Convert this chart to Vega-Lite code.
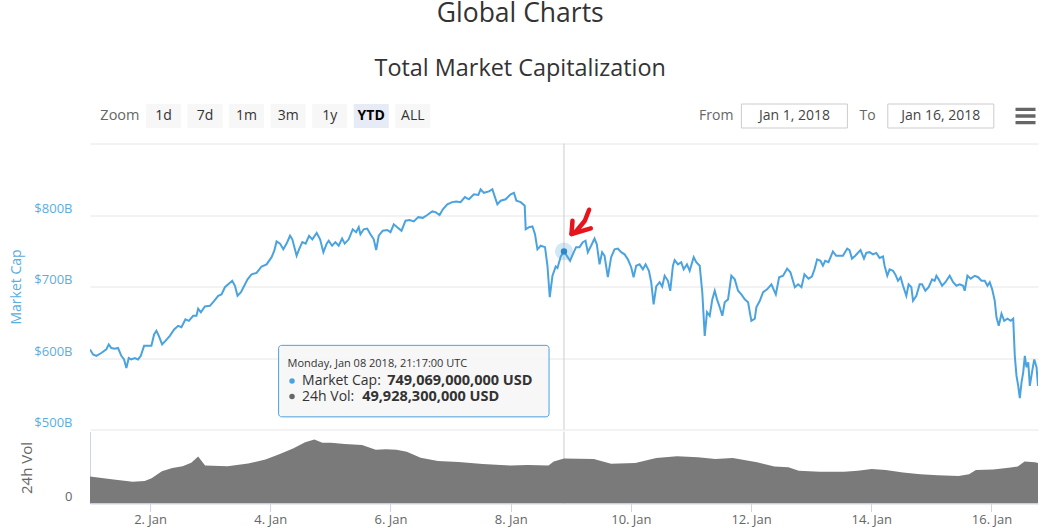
{
  "$schema": "https://vega.github.io/schema/vega-lite/v6.json",
  "background": "white",
  "padding": {"left": 9, "right": 0, "top": 0, "bottom": 0},
  "config": {"font": "Open Sans", "view": {"stroke": null}},
  "title": {"text": "Global Charts", "subtitle": "Total Market Capitalization", "anchor": "middle", "dx": -10, "font": "Open Sans", "fontSize": 26.5, "fontWeight": "normal", "color": "#333333", "subtitleFont": "Open Sans", "subtitleFontSize": 23.4, "subtitleColor": "#333333", "subtitlePadding": 30.7, "offset": 23.4},
  "datasets": {
    "zoomButtons": [{"item": "Zoom"}, {"item": "1d"}, {"item": "7d"}, {"item": "1m"}, {"item": "3m"}, {"item": "1y"}, {"item": "YTD"}, {"item": "ALL"}],
    "rangeBox": [{"item": "From"}, {"item": "Jan 1, 2018"}, {"item": "To"}, {"item": "Jan 16, 2018"}, {"item": "menu"}],
    "hover": [{"t": "2018-01-08T21:17Z", "v": 749.069, "vol": 49.9283}],
    "arrow": [
      {"part": "shaft", "seq": 1, "t": "2018-01-09T07:19Z", "v": 807.4},
      {"part": "shaft", "seq": 2, "t": "2018-01-09T05:36Z", "v": 792},
      {"part": "shaft", "seq": 3, "t": "2018-01-09T02:00Z", "v": 776.6},
      {"part": "shaft", "seq": 4, "t": "2018-01-09T00:17Z", "v": 773.4},
      {"part": "head", "seq": 1, "t": "2018-01-09T00:41Z", "v": 792},
      {"part": "head", "seq": 2, "t": "2018-01-09T00:17Z", "v": 773.4},
      {"part": "head", "seq": 3, "t": "2018-01-09T08:00Z", "v": 781.3}
    ],
    "tipBox": [{"t": "2018-01-04T03:19Z", "t2": "2018-01-08T15:19Z", "v": 617.7, "v2": 517.7}],
    "tipText": [
      {"kind": "head", "t": "2018-01-04T06:55Z", "v": 591.0, "label": "Monday, Jan 08 2018, 21:17:00 UTC"},
      {"kind": "name", "t": "2018-01-04T12:41Z", "v": 567.9, "label": "Market Cap:"},
      {"kind": "val", "t": "2018-01-05T22:41Z", "v": 567.9, "label": "749,069,000,000 USD"},
      {"kind": "name", "t": "2018-01-04T12:41Z", "v": 546.1, "label": "24h Vol:"},
      {"kind": "val", "t": "2018-01-05T12:41Z", "v": 546.1, "label": "49,928,300,000 USD"}
    ],
    "tipDots": [
      {"series": "Market Cap", "t": "2018-01-04T08:41Z", "v": 567.9},
      {"series": "24h Vol", "t": "2018-01-04T08:41Z", "v": 546.1}
    ],
    "cap": [
      {"t": "2018-01-01T00:00Z", "v": 612}, {"t": "2018-01-01T01:12Z", "v": 605}, {"t": "2018-01-01T02:31Z", "v": 603}, {"t": "2018-01-01T04:31Z", "v": 607},
      {"t": "2018-01-01T06:31Z", "v": 612}, {"t": "2018-01-01T07:29Z", "v": 619}, {"t": "2018-01-01T08:31Z", "v": 614}, {"t": "2018-01-01T09:53Z", "v": 613},
      {"t": "2018-01-01T11:12Z", "v": 614}, {"t": "2018-01-01T12:31Z", "v": 603}, {"t": "2018-01-01T13:36Z", "v": 598}, {"t": "2018-01-01T14:31Z", "v": 586},
      {"t": "2018-01-01T15:29Z", "v": 600}, {"t": "2018-01-01T16:31Z", "v": 598}, {"t": "2018-01-01T17:53Z", "v": 600}, {"t": "2018-01-01T19:12Z", "v": 598},
      {"t": "2018-01-01T20:17Z", "v": 603}, {"t": "2018-01-01T21:36Z", "v": 617}, {"t": "2018-01-01T23:12Z", "v": 617},
      {"t": "2018-01-02T00:31Z", "v": 617}, {"t": "2018-01-02T01:36Z", "v": 633}, {"t": "2018-01-02T02:31Z", "v": 638}, {"t": "2018-01-02T03:29Z", "v": 631},
      {"t": "2018-01-02T04:48Z", "v": 619}, {"t": "2018-01-02T06:07Z", "v": 624}, {"t": "2018-01-02T07:53Z", "v": 631}, {"t": "2018-01-02T09:36Z", "v": 640},
      {"t": "2018-01-02T11:12Z", "v": 645}, {"t": "2018-01-02T12:31Z", "v": 643}, {"t": "2018-01-02T14:07Z", "v": 654}, {"t": "2018-01-02T15:29Z", "v": 652},
      {"t": "2018-01-02T17:12Z", "v": 659}, {"t": "2018-01-02T18:31Z", "v": 659}, {"t": "2018-01-02T19:12Z", "v": 669}, {"t": "2018-01-02T20:17Z", "v": 664},
      {"t": "2018-01-02T21:53Z", "v": 672}, {"t": "2018-01-02T23:53Z", "v": 673},
      {"t": "2018-01-03T01:36Z", "v": 680}, {"t": "2018-01-03T03:12Z", "v": 687}, {"t": "2018-01-03T04:31Z", "v": 689}, {"t": "2018-01-03T05:53Z", "v": 699},
      {"t": "2018-01-03T07:12Z", "v": 703}, {"t": "2018-01-03T08:48Z", "v": 708}, {"t": "2018-01-03T09:53Z", "v": 701}, {"t": "2018-01-03T10:55Z", "v": 687},
      {"t": "2018-01-03T12:17Z", "v": 692}, {"t": "2018-01-03T13:36Z", "v": 701}, {"t": "2018-01-03T14:55Z", "v": 710}, {"t": "2018-01-03T16:31Z", "v": 717},
      {"t": "2018-01-03T18:31Z", "v": 719}, {"t": "2018-01-03T20:31Z", "v": 728}, {"t": "2018-01-03T22:31Z", "v": 731},
      {"t": "2018-01-04T00:31Z", "v": 741}, {"t": "2018-01-04T01:36Z", "v": 750}, {"t": "2018-01-04T02:31Z", "v": 763}, {"t": "2018-01-04T03:53Z", "v": 760},
      {"t": "2018-01-04T05:12Z", "v": 752}, {"t": "2018-01-04T06:31Z", "v": 760}, {"t": "2018-01-04T07:53Z", "v": 771}, {"t": "2018-01-04T08:48Z", "v": 766},
      {"t": "2018-01-04T10:31Z", "v": 743}, {"t": "2018-01-04T11:29Z", "v": 752}, {"t": "2018-01-04T12:48Z", "v": 762}, {"t": "2018-01-04T14:07Z", "v": 760},
      {"t": "2018-01-04T15:29Z", "v": 771}, {"t": "2018-01-04T16:48Z", "v": 766}, {"t": "2018-01-04T18:31Z", "v": 775}, {"t": "2018-01-04T19:53Z", "v": 766},
      {"t": "2018-01-04T21:12Z", "v": 748}, {"t": "2018-01-04T22:31Z", "v": 760}, {"t": "2018-01-04T23:19Z", "v": 764},
      {"t": "2018-01-05T00:41Z", "v": 757}, {"t": "2018-01-05T02:00Z", "v": 762}, {"t": "2018-01-05T03:19Z", "v": 757}, {"t": "2018-01-05T04:41Z", "v": 767},
      {"t": "2018-01-05T05:43Z", "v": 760}, {"t": "2018-01-05T07:19Z", "v": 766}, {"t": "2018-01-05T08:55Z", "v": 780}, {"t": "2018-01-05T10:17Z", "v": 776},
      {"t": "2018-01-05T11:19Z", "v": 783}, {"t": "2018-01-05T12:00Z", "v": 773}, {"t": "2018-01-05T13:19Z", "v": 780}, {"t": "2018-01-05T14:41Z", "v": 781},
      {"t": "2018-01-05T16:00Z", "v": 773}, {"t": "2018-01-05T17:19Z", "v": 766}, {"t": "2018-01-05T18:17Z", "v": 751}, {"t": "2018-01-05T19:19Z", "v": 771},
      {"t": "2018-01-05T20:55Z", "v": 778}, {"t": "2018-01-05T22:41Z", "v": 779},
      {"t": "2018-01-06T00:00Z", "v": 776}, {"t": "2018-01-06T01:19Z", "v": 787}, {"t": "2018-01-06T02:41Z", "v": 783}, {"t": "2018-01-06T04:24Z", "v": 778},
      {"t": "2018-01-06T06:00Z", "v": 792}, {"t": "2018-01-06T07:36Z", "v": 793}, {"t": "2018-01-06T09:19Z", "v": 791}, {"t": "2018-01-06T11:05Z", "v": 797},
      {"t": "2018-01-06T12:55Z", "v": 796}, {"t": "2018-01-06T14:41Z", "v": 800}, {"t": "2018-01-06T16:41Z", "v": 805}, {"t": "2018-01-06T18:00Z", "v": 804},
      {"t": "2018-01-06T19:36Z", "v": 800}, {"t": "2018-01-06T20:55Z", "v": 808}, {"t": "2018-01-06T22:41Z", "v": 815},
      {"t": "2018-01-07T00:41Z", "v": 818}, {"t": "2018-01-07T02:17Z", "v": 819}, {"t": "2018-01-07T04:00Z", "v": 818}, {"t": "2018-01-07T05:43Z", "v": 825},
      {"t": "2018-01-07T07:19Z", "v": 822}, {"t": "2018-01-07T09:19Z", "v": 829}, {"t": "2018-01-07T11:05Z", "v": 828}, {"t": "2018-01-07T12:00Z", "v": 836},
      {"t": "2018-01-07T13:19Z", "v": 831}, {"t": "2018-01-07T15:19Z", "v": 833}, {"t": "2018-01-07T16:41Z", "v": 836}, {"t": "2018-01-07T17:43Z", "v": 825},
      {"t": "2018-01-07T18:41Z", "v": 815}, {"t": "2018-01-07T20:00Z", "v": 820}, {"t": "2018-01-07T22:00Z", "v": 822},
      {"t": "2018-01-08T00:00Z", "v": 829}, {"t": "2018-01-08T01:19Z", "v": 831}, {"t": "2018-01-08T02:17Z", "v": 820}, {"t": "2018-01-08T04:00Z", "v": 818},
      {"t": "2018-01-08T05:36Z", "v": 813}, {"t": "2018-01-08T06:00Z", "v": 780}, {"t": "2018-01-08T07:19Z", "v": 783}, {"t": "2018-01-08T08:41Z", "v": 784},
      {"t": "2018-01-08T09:43Z", "v": 773}, {"t": "2018-01-08T10:41Z", "v": 752}, {"t": "2018-01-08T12:00Z", "v": 757}, {"t": "2018-01-08T13:43Z", "v": 755},
      {"t": "2018-01-08T14:41Z", "v": 729}, {"t": "2018-01-08T15:36Z", "v": 685}, {"t": "2018-01-08T16:41Z", "v": 715}, {"t": "2018-01-08T18:00Z", "v": 728},
      {"t": "2018-01-08T18:41Z", "v": 726}, {"t": "2018-01-08T20:00Z", "v": 742}, {"t": "2018-01-08T21:17Z", "v": 749.069}, {"t": "2018-01-08T23:43Z", "v": 736},
      {"t": "2018-01-09T00:48Z", "v": 745}, {"t": "2018-01-09T02:07Z", "v": 755}, {"t": "2018-01-09T03:29Z", "v": 755}, {"t": "2018-01-09T04:48Z", "v": 762},
      {"t": "2018-01-09T05:53Z", "v": 764}, {"t": "2018-01-09T06:48Z", "v": 748}, {"t": "2018-01-09T08:07Z", "v": 757}, {"t": "2018-01-09T09:29Z", "v": 767},
      {"t": "2018-01-09T10:24Z", "v": 759}, {"t": "2018-01-09T11:29Z", "v": 731}, {"t": "2018-01-09T12:31Z", "v": 748}, {"t": "2018-01-09T13:29Z", "v": 743},
      {"t": "2018-01-09T14:48Z", "v": 713}, {"t": "2018-01-09T16:07Z", "v": 741}, {"t": "2018-01-09T17:29Z", "v": 752}, {"t": "2018-01-09T18:48Z", "v": 753},
      {"t": "2018-01-09T20:07Z", "v": 748}, {"t": "2018-01-09T21:29Z", "v": 745}, {"t": "2018-01-09T22:48Z", "v": 738},
      {"t": "2018-01-10T00:07Z", "v": 727}, {"t": "2018-01-10T01:05Z", "v": 713}, {"t": "2018-01-10T02:07Z", "v": 729}, {"t": "2018-01-10T03:29Z", "v": 731},
      {"t": "2018-01-10T04:48Z", "v": 724}, {"t": "2018-01-10T05:53Z", "v": 731}, {"t": "2018-01-10T07:12Z", "v": 722}, {"t": "2018-01-10T08:07Z", "v": 706},
      {"t": "2018-01-10T09:05Z", "v": 675}, {"t": "2018-01-10T10:07Z", "v": 700}, {"t": "2018-01-10T11:29Z", "v": 706}, {"t": "2018-01-10T12:31Z", "v": 700},
      {"t": "2018-01-10T13:29Z", "v": 715}, {"t": "2018-01-10T14:48Z", "v": 708}, {"t": "2018-01-10T15:43Z", "v": 694}, {"t": "2018-01-10T16:48Z", "v": 729},
      {"t": "2018-01-10T17:29Z", "v": 737}, {"t": "2018-01-10T18:48Z", "v": 731}, {"t": "2018-01-10T20:07Z", "v": 734}, {"t": "2018-01-10T21:05Z", "v": 724},
      {"t": "2018-01-10T22:24Z", "v": 731}, {"t": "2018-01-10T23:29Z", "v": 722},
      {"t": "2018-01-11T01:05Z", "v": 741}, {"t": "2018-01-11T02:07Z", "v": 734}, {"t": "2018-01-11T03:29Z", "v": 729}, {"t": "2018-01-11T04:31Z", "v": 692},
      {"t": "2018-01-11T05:29Z", "v": 631}, {"t": "2018-01-11T06:24Z", "v": 664}, {"t": "2018-01-11T07:29Z", "v": 659}, {"t": "2018-01-11T08:31Z", "v": 682},
      {"t": "2018-01-11T09:29Z", "v": 694}, {"t": "2018-01-11T10:24Z", "v": 682}, {"t": "2018-01-11T11:29Z", "v": 671}, {"t": "2018-01-11T12:31Z", "v": 659},
      {"t": "2018-01-11T13:29Z", "v": 678}, {"t": "2018-01-11T14:48Z", "v": 682}, {"t": "2018-01-11T16:07Z", "v": 715}, {"t": "2018-01-11T17:29Z", "v": 710},
      {"t": "2018-01-11T18:48Z", "v": 694}, {"t": "2018-01-11T20:07Z", "v": 689}, {"t": "2018-01-11T21:29Z", "v": 682}, {"t": "2018-01-11T22:48Z", "v": 678},
      {"t": "2018-01-12T00:07Z", "v": 652}, {"t": "2018-01-12T01:29Z", "v": 655}, {"t": "2018-01-12T02:07Z", "v": 671}, {"t": "2018-01-12T03:29Z", "v": 680},
      {"t": "2018-01-12T04:48Z", "v": 692}, {"t": "2018-01-12T06:24Z", "v": 696}, {"t": "2018-01-12T08:07Z", "v": 703}, {"t": "2018-01-12T09:53Z", "v": 689},
      {"t": "2018-01-12T11:12Z", "v": 713}, {"t": "2018-01-12T12:48Z", "v": 715}, {"t": "2018-01-12T14:24Z", "v": 725}, {"t": "2018-01-12T15:43Z", "v": 720},
      {"t": "2018-01-12T17:29Z", "v": 699}, {"t": "2018-01-12T18:48Z", "v": 703}, {"t": "2018-01-12T20:07Z", "v": 699}, {"t": "2018-01-12T21:19Z", "v": 717},
      {"t": "2018-01-12T22:55Z", "v": 711},
      {"t": "2018-01-13T00:17Z", "v": 714}, {"t": "2018-01-13T01:19Z", "v": 724}, {"t": "2018-01-13T02:24Z", "v": 738}, {"t": "2018-01-13T03:43Z", "v": 736},
      {"t": "2018-01-13T04:41Z", "v": 729}, {"t": "2018-01-13T05:36Z", "v": 736}, {"t": "2018-01-13T06:55Z", "v": 734}, {"t": "2018-01-13T08:41Z", "v": 749},
      {"t": "2018-01-13T10:00Z", "v": 743}, {"t": "2018-01-13T11:19Z", "v": 743}, {"t": "2018-01-13T12:41Z", "v": 743}, {"t": "2018-01-13T14:24Z", "v": 753},
      {"t": "2018-01-13T15:19Z", "v": 751}, {"t": "2018-01-13T16:17Z", "v": 739}, {"t": "2018-01-13T17:36Z", "v": 743}, {"t": "2018-01-13T19:43Z", "v": 751},
      {"t": "2018-01-13T21:05Z", "v": 739}, {"t": "2018-01-13T22:00Z", "v": 747}, {"t": "2018-01-13T23:19Z", "v": 748},
      {"t": "2018-01-14T00:41Z", "v": 745}, {"t": "2018-01-14T02:00Z", "v": 747}, {"t": "2018-01-14T03:19Z", "v": 740}, {"t": "2018-01-14T04:41Z", "v": 742},
      {"t": "2018-01-14T05:19Z", "v": 729}, {"t": "2018-01-14T06:24Z", "v": 715}, {"t": "2018-01-14T07:19Z", "v": 724}, {"t": "2018-01-14T08:41Z", "v": 722},
      {"t": "2018-01-14T09:36Z", "v": 717}, {"t": "2018-01-14T10:41Z", "v": 708}, {"t": "2018-01-14T11:43Z", "v": 713}, {"t": "2018-01-14T12:41Z", "v": 701},
      {"t": "2018-01-14T14:00Z", "v": 687}, {"t": "2018-01-14T14:55Z", "v": 703}, {"t": "2018-01-14T16:00Z", "v": 699}, {"t": "2018-01-14T16:41Z", "v": 680},
      {"t": "2018-01-14T18:00Z", "v": 687}, {"t": "2018-01-14T19:19Z", "v": 703}, {"t": "2018-01-14T20:17Z", "v": 703}, {"t": "2018-01-14T21:36Z", "v": 694},
      {"t": "2018-01-14T22:55Z", "v": 699},
      {"t": "2018-01-15T00:17Z", "v": 710}, {"t": "2018-01-15T01:19Z", "v": 708}, {"t": "2018-01-15T02:00Z", "v": 715}, {"t": "2018-01-15T02:55Z", "v": 710},
      {"t": "2018-01-15T04:17Z", "v": 701}, {"t": "2018-01-15T05:36Z", "v": 706}, {"t": "2018-01-15T07:19Z", "v": 715}, {"t": "2018-01-15T08:41Z", "v": 706},
      {"t": "2018-01-15T10:00Z", "v": 701}, {"t": "2018-01-15T11:19Z", "v": 703}, {"t": "2018-01-15T12:41Z", "v": 701}, {"t": "2018-01-15T13:19Z", "v": 694},
      {"t": "2018-01-15T14:24Z", "v": 715}, {"t": "2018-01-15T15:43Z", "v": 711}, {"t": "2018-01-15T17:19Z", "v": 715}, {"t": "2018-01-15T18:41Z", "v": 713},
      {"t": "2018-01-15T20:00Z", "v": 708}, {"t": "2018-01-15T21:19Z", "v": 708}, {"t": "2018-01-15T22:24Z", "v": 701}, {"t": "2018-01-15T23:19Z", "v": 706},
      {"t": "2018-01-16T00:17Z", "v": 696}, {"t": "2018-01-16T01:19Z", "v": 680}, {"t": "2018-01-16T02:00Z", "v": 657}, {"t": "2018-01-16T02:55Z", "v": 645},
      {"t": "2018-01-16T04:00Z", "v": 662}, {"t": "2018-01-16T05:05Z", "v": 652}, {"t": "2018-01-16T06:24Z", "v": 655}, {"t": "2018-01-16T07:43Z", "v": 652},
      {"t": "2018-01-16T08:41Z", "v": 655}, {"t": "2018-01-16T09:19Z", "v": 603}, {"t": "2018-01-16T10:00Z", "v": 575}, {"t": "2018-01-16T10:41Z", "v": 561},
      {"t": "2018-01-16T11:19Z", "v": 544}, {"t": "2018-01-16T12:00Z", "v": 566}, {"t": "2018-01-16T12:41Z", "v": 580}, {"t": "2018-01-16T13:19Z", "v": 603},
      {"t": "2018-01-16T14:00Z", "v": 587}, {"t": "2018-01-16T14:41Z", "v": 594}, {"t": "2018-01-16T15:19Z", "v": 561}, {"t": "2018-01-16T16:17Z", "v": 582},
      {"t": "2018-01-16T17:05Z", "v": 598}, {"t": "2018-01-16T18:00Z", "v": 587}, {"t": "2018-01-16T18:35Z", "v": 561}
    ],
    "vol": [
      {"t": "2018-01-01T00:00Z", "vol": 29.9}, {"t": "2018-01-01T09:26Z", "vol": 26.8}, {"t": "2018-01-01T17:02Z", "vol": 24.1}, {"t": "2018-01-01T21:50Z", "vol": 24.9},
      {"t": "2018-01-02T00:36Z", "vol": 28}, {"t": "2018-01-02T04:43Z", "vol": 35.7}, {"t": "2018-01-02T08:53Z", "vol": 39.4}, {"t": "2018-01-02T13:00Z", "vol": 41.3},
      {"t": "2018-01-02T16:26Z", "vol": 45.2}, {"t": "2018-01-02T19:12Z", "vol": 52.1}, {"t": "2018-01-02T20:34Z", "vol": 47.1}, {"t": "2018-01-02T21:58Z", "vol": 42.1},
      {"t": "2018-01-03T06:55Z", "vol": 41.3}, {"t": "2018-01-03T15:10Z", "vol": 44.4}, {"t": "2018-01-03T22:05Z", "vol": 49},
      {"t": "2018-01-04T03:34Z", "vol": 54.8}, {"t": "2018-01-04T09:05Z", "vol": 61.2}, {"t": "2018-01-04T13:55Z", "vol": 68.1}, {"t": "2018-01-04T17:36Z", "vol": 71.2},
      {"t": "2018-01-04T20:48Z", "vol": 67.4}, {"t": "2018-01-05T00:14Z", "vol": 67.4}, {"t": "2018-01-05T05:46Z", "vol": 66.2}, {"t": "2018-01-05T12:38Z", "vol": 65.1},
      {"t": "2018-01-05T18:07Z", "vol": 59.8}, {"t": "2018-01-05T22:17Z", "vol": 60.4}, {"t": "2018-01-06T02:24Z", "vol": 59.8}, {"t": "2018-01-06T06:31Z", "vol": 57.4},
      {"t": "2018-01-06T12:02Z", "vol": 50.9}, {"t": "2018-01-06T18:55Z", "vol": 47.1}, {"t": "2018-01-07T03:12Z", "vol": 46}, {"t": "2018-01-07T12:50Z", "vol": 44},
      {"t": "2018-01-07T23:50Z", "vol": 42.1}, {"t": "2018-01-08T06:46Z", "vol": 42.9}, {"t": "2018-01-08T15:07Z", "vol": 42.1}, {"t": "2018-01-08T17:12Z", "vol": 46.8},
      {"t": "2018-01-08T21:17Z", "vol": 49.9}, {"t": "2018-01-09T09:10Z", "vol": 49.4}, {"t": "2018-01-09T16:05Z", "vol": 44.1}, {"t": "2018-01-10T01:48Z", "vol": 44.9},
      {"t": "2018-01-10T10:07Z", "vol": 50.6}, {"t": "2018-01-10T18:26Z", "vol": 52.6}, {"t": "2018-01-11T02:48Z", "vol": 51.4}, {"t": "2018-01-11T09:43Z", "vol": 49.4},
      {"t": "2018-01-11T16:41Z", "vol": 50.6}, {"t": "2018-01-12T02:24Z", "vol": 45.7}, {"t": "2018-01-12T09:19Z", "vol": 41}, {"t": "2018-01-12T14:53Z", "vol": 40.2},
      {"t": "2018-01-12T19:02Z", "vol": 36.3}, {"t": "2018-01-13T03:22Z", "vol": 35.2}, {"t": "2018-01-13T13:05Z", "vol": 35.2}, {"t": "2018-01-13T18:38Z", "vol": 36.3},
      {"t": "2018-01-14T00:10Z", "vol": 38.3}, {"t": "2018-01-14T05:43Z", "vol": 37.1}, {"t": "2018-01-14T12:41Z", "vol": 34.4}, {"t": "2018-01-14T19:36Z", "vol": 32.6},
      {"t": "2018-01-15T02:34Z", "vol": 31.3}, {"t": "2018-01-15T10:53Z", "vol": 30.6}, {"t": "2018-01-15T15:02Z", "vol": 32.6}, {"t": "2018-01-15T17:48Z", "vol": 37.1},
      {"t": "2018-01-16T00:46Z", "vol": 37.9}, {"t": "2018-01-16T07:41Z", "vol": 39.9}, {"t": "2018-01-16T10:29Z", "vol": 41}, {"t": "2018-01-16T13:14Z", "vol": 46.8},
      {"t": "2018-01-16T17:24Z", "vol": 45.7}, {"t": "2018-01-16T18:35Z", "vol": 44.9}
    ]
  },
  "spacing": 13.5,
  "vconcat": [
    {
      "spacing": 239.6,
      "hconcat": [
        {
          "width": 354.7,
          "height": 24,
          "data": {"name": "zoomButtons"},
          "layer": [
            {
              "transform": [{"filter": "datum.item !== 'Zoom'"}],
              "mark": {"type": "bar"},
              "encoding": {
                "x": {"field": "item", "type": "nominal", "axis": null, "scale": {"type": "band", "domain": ["Zoom", "1d", "7d", "1m", "3m", "1y", "YTD", "ALL"], "paddingInner": 0.158, "paddingOuter": 0.347}},
                "color": {"condition": {"test": "datum.item === 'YTD'", "value": "#e6ebf5"}, "value": "#f7f7f7"}
              }
            },
            {
              "transform": [{"filter": "datum.item === 'Zoom'"}],
              "mark": {"type": "text", "fontSize": 14.5, "color": "#666666", "dx": -2},
              "encoding": {"x": {"field": "item", "type": "nominal", "axis": null}, "text": {"field": "item"}}
            },
            {
              "transform": [{"filter": "datum.item !== 'Zoom' && datum.item !== 'YTD'"}],
              "mark": {"type": "text", "fontSize": 14, "color": "#333333"},
              "encoding": {"x": {"field": "item", "type": "nominal", "axis": null}, "text": {"field": "item"}}
            },
            {
              "transform": [{"filter": "datum.item === 'YTD'"}],
              "mark": {"type": "text", "fontSize": 14, "fontWeight": "bold", "color": "#000000"},
              "encoding": {"x": {"field": "item", "type": "nominal", "axis": null}, "text": {"field": "item"}}
            }
          ]
        },
        {
          "width": 366,
          "height": 24,
          "data": {"name": "rangeBox"},
          "layer": [
            {
              "transform": [{"filter": "indexof(datum.item, 'Jan') === 0"}],
              "mark": {"type": "bar", "width": 106, "fill": "#ffffff", "stroke": "#cccccc", "strokeWidth": 1},
              "encoding": {
                "x": {"field": "item", "type": "nominal", "axis": null, "scale": {"type": "band", "domain": ["From", "Jan 1, 2018", "To", "Jan 16, 2018", "menu"], "paddingInner": 0, "paddingOuter": 0}}
              }
            },
            {
              "transform": [{"filter": "indexof(datum.item, 'Jan') === 0"}],
              "mark": {"type": "text", "fontSize": 14, "color": "#444444"},
              "encoding": {"x": {"field": "item", "type": "nominal", "axis": null}, "text": {"field": "item"}}
            },
            {
              "transform": [{"filter": "datum.item === 'From'"}],
              "mark": {"type": "text", "fontSize": 14, "color": "#666666", "dx": -5},
              "encoding": {"x": {"field": "item", "type": "nominal", "axis": null}, "text": {"field": "item"}}
            },
            {
              "transform": [{"filter": "datum.item === 'To'"}],
              "mark": {"type": "text", "fontSize": 14, "color": "#666666"},
              "encoding": {"x": {"field": "item", "type": "nominal", "axis": null}, "text": {"field": "item"}}
            },
            {
              "transform": [{"filter": "datum.item === 'menu'"}],
              "mark": {"type": "point", "shape": "M-1,-0.835H1V-0.505H-1Z M-1,-0.165H1V0.165H-1Z M-1,0.505H1V0.835H-1Z", "size": 400, "filled": true, "fill": "#666666", "opacity": 1, "strokeWidth": 0, "xOffset": 11.5},
              "encoding": {"x": {"field": "item", "type": "nominal", "axis": null}}
            }
          ]
        }
      ]
    },
    {
      "spacing": 0,
      "vconcat": [
        {
          "width": 948,
          "height": 286,
          "resolve": {"axis": {"x": "independent", "y": "independent"}},
          "layer": [
            {
              "data": {"name": "hover"},
              "mark": {"type": "rule", "color": "#cccccc", "strokeWidth": 1},
              "encoding": {
                "x": {"field": "t", "type": "temporal", "axis": null, "scale": {"type": "utc", "nice": false, "domain": [{"year": 2018, "month": 1, "date": 1, "hours": 0, "utc": true}, {"year": 2018, "month": 1, "date": 16, "hours": 18, "minutes": 35, "utc": true}]}}
              }
            },
            {
              "data": {"name": "cap"},
              "mark": {"type": "line", "color": "#4aa3df", "strokeWidth": 2, "clip": true},
              "encoding": {
                "x": {"field": "t", "type": "temporal", "axis": null},
                "y": {"field": "v", "type": "quantitative", "scale": {"domain": [500, 900], "nice": false, "zero": false},
                  "axis": {"values": [500, 600, 700, 800, 900], "labelExpr": "datum.value >= 900 ? '' : '$' + datum.value + 'B'", "grid": true, "gridColor": "#e6e6e6", "domain": false, "ticks": false, "labelPadding": 18, "labelColor": "#5aaee0", "labelFontSize": 13, "labelBaseline": "alphabetic", "labelOffset": -3, "title": "Market Cap", "titleColor": "#5aaee0", "titleFontSize": 14, "titleFontWeight": "normal", "titlePadding": 10}}
              }
            },
            {
              "data": {"name": "hover"},
              "mark": {"type": "point", "filled": true, "size": 320, "color": "#4aa3df", "opacity": 0.25},
              "encoding": {"x": {"field": "t", "type": "temporal", "axis": null}, "y": {"field": "v", "type": "quantitative", "axis": null}}
            },
            {
              "data": {"name": "hover"},
              "mark": {"type": "point", "filled": true, "size": 40, "color": "#2f86c4", "opacity": 1},
              "encoding": {"x": {"field": "t", "type": "temporal", "axis": null}, "y": {"field": "v", "type": "quantitative", "axis": null}}
            },
            {
              "data": {"name": "arrow"},
              "mark": {"type": "line", "color": "#e8141c", "strokeWidth": 4.5, "strokeCap": "round", "strokeJoin": "round"},
              "encoding": {"x": {"field": "t", "type": "temporal", "axis": null}, "y": {"field": "v", "type": "quantitative", "axis": null}, "detail": {"field": "part"}, "order": {"field": "seq"}}
            },
            {
              "data": {"name": "tipBox"},
              "mark": {"type": "rect", "fill": "#000000", "opacity": 0.07, "xOffset": 2, "yOffset": 2, "cornerRadius": 3},
              "encoding": {"x": {"field": "t", "type": "temporal", "axis": null}, "x2": {"field": "t2"}, "y": {"field": "v", "type": "quantitative", "axis": null}, "y2": {"field": "v2"}}
            },
            {
              "data": {"name": "tipBox"},
              "mark": {"type": "rect", "fill": "#f7f7f7", "fillOpacity": 0.92, "stroke": "#4aa3df", "strokeWidth": 1, "cornerRadius": 3},
              "encoding": {"x": {"field": "t", "type": "temporal", "axis": null}, "x2": {"field": "t2"}, "y": {"field": "v", "type": "quantitative", "axis": null}, "y2": {"field": "v2"}}
            },
            {
              "data": {"name": "tipDots"},
              "mark": {"type": "point", "filled": true, "size": 30, "opacity": 1},
              "encoding": {"x": {"field": "t", "type": "temporal", "axis": null}, "y": {"field": "v", "type": "quantitative", "axis": null},
                "color": {"condition": {"test": "datum.series === 'Market Cap'", "value": "#4aa3df"}, "value": "#666666"}}
            },
            {
              "data": {"name": "tipText"},
              "transform": [{"filter": "datum.kind === 'head'"}],
              "mark": {"type": "text", "align": "left", "baseline": "middle", "fontSize": 11, "color": "#333333"},
              "encoding": {"x": {"field": "t", "type": "temporal", "axis": null}, "y": {"field": "v", "type": "quantitative", "axis": null}, "text": {"field": "label"}}
            },
            {
              "data": {"name": "tipText"},
              "transform": [{"filter": "datum.kind === 'name'"}],
              "mark": {"type": "text", "align": "left", "baseline": "middle", "fontSize": 14, "color": "#333333"},
              "encoding": {"x": {"field": "t", "type": "temporal", "axis": null}, "y": {"field": "v", "type": "quantitative", "axis": null}, "text": {"field": "label"}}
            },
            {
              "data": {"name": "tipText"},
              "transform": [{"filter": "datum.kind === 'val'"}],
              "mark": {"type": "text", "align": "left", "baseline": "middle", "fontSize": 14.5, "fontWeight": "bold", "color": "#333333"},
              "encoding": {"x": {"field": "t", "type": "temporal", "axis": null}, "y": {"field": "v", "type": "quantitative", "axis": null}, "text": {"field": "label"}}
            }
          ]
        },
        {
          "width": 948,
          "height": 72,
          "resolve": {"axis": {"x": "independent", "y": "independent"}},
          "layer": [
            {
              "data": {"name": "hover"},
              "mark": {"type": "rule", "color": "#cccccc", "strokeWidth": 1},
              "encoding": {
                "x": {"field": "t", "type": "temporal",
                  "scale": {"type": "utc", "nice": false, "domain": [{"year": 2018, "month": 1, "date": 1, "hours": 0, "utc": true}, {"year": 2018, "month": 1, "date": 16, "hours": 18, "minutes": 35, "utc": true}]},
                  "axis": {"values": [
                    {"year": 2018, "month": 1, "date": 2, "utc": true}, {"year": 2018, "month": 1, "date": 4, "utc": true},
                    {"year": 2018, "month": 1, "date": 6, "utc": true}, {"year": 2018, "month": 1, "date": 8, "utc": true},
                    {"year": 2018, "month": 1, "date": 10, "utc": true}, {"year": 2018, "month": 1, "date": 12, "utc": true},
                    {"year": 2018, "month": 1, "date": 14, "utc": true}, {"year": 2018, "month": 1, "date": 16, "utc": true}],
                    "format": "%-d. %b", "grid": false, "domainColor": "#ccd6eb", "tickColor": "#ccd6eb", "tickSize": 8, "labelPadding": 2, "labelColor": "#666666", "labelFontSize": 13, "labelFlush": false, "title": null}}
              }
            },
            {
              "data": {"name": "vol"},
              "mark": {"type": "area", "color": "#7a7a7a", "opacity": 1, "clip": true},
              "encoding": {
                "x": {"field": "t", "type": "temporal", "axis": null},
                "y": {"field": "vol", "type": "quantitative", "scale": {"domain": [0, 80], "nice": false},
                  "axis": {"values": [0], "grid": false, "domain": true, "domainColor": "#ccd6eb", "ticks": false, "labelPadding": 18, "labelColor": "#666666", "labelFontSize": 13, "labelBaseline": "alphabetic", "labelOffset": -3, "title": "24h Vol", "titleColor": "#666666", "titleFontSize": 15, "titleFontWeight": "normal", "titlePadding": 30}}
              }
            }
          ]
        }
      ]
    }
  ]
}
